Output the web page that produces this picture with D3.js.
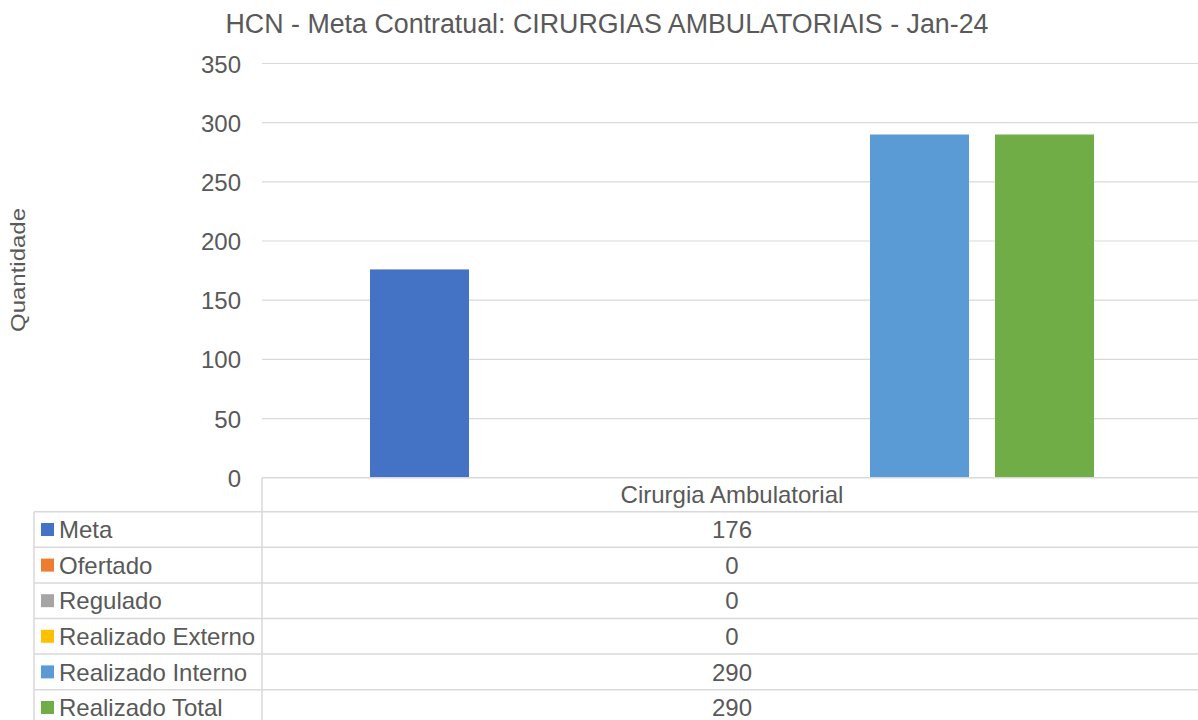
<!DOCTYPE html>
<html>
<head>
<meta charset="utf-8">
<script src="https://cdn.jsdelivr.net/npm/d3@7"></script>
<style>
  body { margin: 0; background: #fff; }
  svg { font-family: "Liberation Sans", Arial, sans-serif; }
</style>
</head>
<body>
<div id="chart"></div>
<script>
// Data
var categories = ["Cirurgia Ambulatorial"];
var series = ["Meta", "Ofertado", "Regulado", "Realizado Externo", "Realizado Interno", "Realizado Total"];
var values = [176, 0, 0, 0, 290, 290];
var colors = ["#4472C4", "#ED7D31", "#A5A5A5", "#FFC000", "#5B9BD5", "#70AD47"];
var yTicks = [0, 50, 100, 150, 200, 250, 300, 350];

var width = 1198, height = 720;
var plot = { left: 262, right: 1202, top: 63.5, bottom: 477.7 };
var tableLeft = 34, headerH = 34, rowH = 35.6;
var textColor = "#595959", gridColor = "#D9D9D9";
var fontSize = "24px";

var svg = d3.select("#chart").append("svg")
    .attr("width", width)
    .attr("height", height);

// Title
svg.append("text")
    .attr("x", 607)
    .attr("y", 33)
    .attr("text-anchor", "middle")
    .attr("fill", textColor)
    .style("font-size", "26.8px")
    .text("HCN - Meta Contratual: CIRURGIAS AMBULATORIAIS - Jan-24");

// Scales
var y = d3.scaleLinear().domain([0, 350]).range([plot.bottom, plot.top]);

var x0 = d3.scaleBand()
    .domain(categories)
    .range([plot.left, plot.right])
    .padding(0.1124);

var x1 = d3.scaleBand()
    .domain(series)
    .range([0, x0.bandwidth()])
    .paddingInner(0.208)
    .paddingOuter(0.104);

// Gridlines
svg.append("g")
    .selectAll("line")
    .data(yTicks.filter(d => d > 0))
    .enter().append("line")
    .attr("x1", plot.left)
    .attr("x2", width)
    .attr("y1", d => y(d))
    .attr("y2", d => y(d))
    .attr("stroke", gridColor)
    .attr("stroke-width", 1.2);

// Y axis labels
var yAxis = svg.append("g")
    .attr("transform", `translate(${plot.left - 21},0)`)
    .call(d3.axisLeft(y).tickValues(yTicks).tickSize(0).tickPadding(0));
yAxis.select(".domain").remove();
yAxis.selectAll("text")
    .attr("fill", textColor)
    .attr("dy", "0.36em")
    .style("font-size", fontSize)
    .style("font-family", "'Liberation Sans', Arial, sans-serif");

// Y axis title
svg.append("text")
    .attr("transform", "translate(25,270) rotate(-90)")
    .attr("text-anchor", "middle")
    .attr("fill", textColor)
    .attr("textLength", 124)
    .attr("lengthAdjust", "spacingAndGlyphs")
    .style("font-size", "20px")
    .text("Quantidade");

// Bars
categories.forEach(function(cat) {
    svg.append("g")
        .selectAll("rect")
        .data(series.map((s, i) => ({ s: s, v: values[i], c: colors[i] })))
        .enter().append("rect")
        .attr("x", d => x0(cat) + x1(d.s))
        .attr("y", d => y(d.v))
        .attr("width", x1.bandwidth())
        .attr("height", d => y(0) - y(d.v))
        .attr("fill", d => d.c);
});

// Data table
var table = svg.append("g");
var rowTop = i => plot.bottom + headerH + i * rowH;
var tableBottom = rowTop(series.length);

// horizontal lines
table.append("line")
    .attr("x1", plot.left).attr("x2", width)
    .attr("y1", plot.bottom).attr("y2", plot.bottom)
    .attr("stroke", gridColor).attr("stroke-width", 1.5);
for (var i = 0; i < series.length; i++) {
    table.append("line")
        .attr("x1", tableLeft).attr("x2", width)
        .attr("y1", rowTop(i)).attr("y2", rowTop(i))
        .attr("stroke", gridColor).attr("stroke-width", 1.5);
}
// vertical lines
table.append("line")
    .attr("x1", plot.left).attr("x2", plot.left)
    .attr("y1", plot.bottom).attr("y2", tableBottom)
    .attr("stroke", gridColor).attr("stroke-width", 1.5);
table.append("line")
    .attr("x1", tableLeft).attr("x2", tableLeft)
    .attr("y1", rowTop(0)).attr("y2", tableBottom)
    .attr("stroke", gridColor).attr("stroke-width", 1.5);

// header
categories.forEach(function(cat) {
    table.append("text")
        .attr("x", x0(cat) + x0.bandwidth() / 2)
        .attr("y", plot.bottom + headerH / 2)
        .attr("dy", "0.36em")
        .attr("text-anchor", "middle")
        .attr("fill", textColor)
        .style("font-size", fontSize)
        .text(cat);
});

// rows
series.forEach(function(s, i) {
    var cy = rowTop(i) + rowH / 2;
    table.append("rect")
        .attr("x", 41)
        .attr("y", cy - 6.5)
        .attr("width", 13)
        .attr("height", 13)
        .attr("fill", colors[i]);
    table.append("text")
        .attr("x", 59)
        .attr("y", cy)
        .attr("dy", "0.36em")
        .attr("fill", textColor)
        .style("font-size", fontSize)
        .text(s);
    table.append("text")
        .attr("x", x0(categories[0]) + x0.bandwidth() / 2)
        .attr("y", cy)
        .attr("dy", "0.36em")
        .attr("text-anchor", "middle")
        .attr("fill", textColor)
        .style("font-size", fontSize)
        .text(values[i]);
});
</script>
</body>
</html>
